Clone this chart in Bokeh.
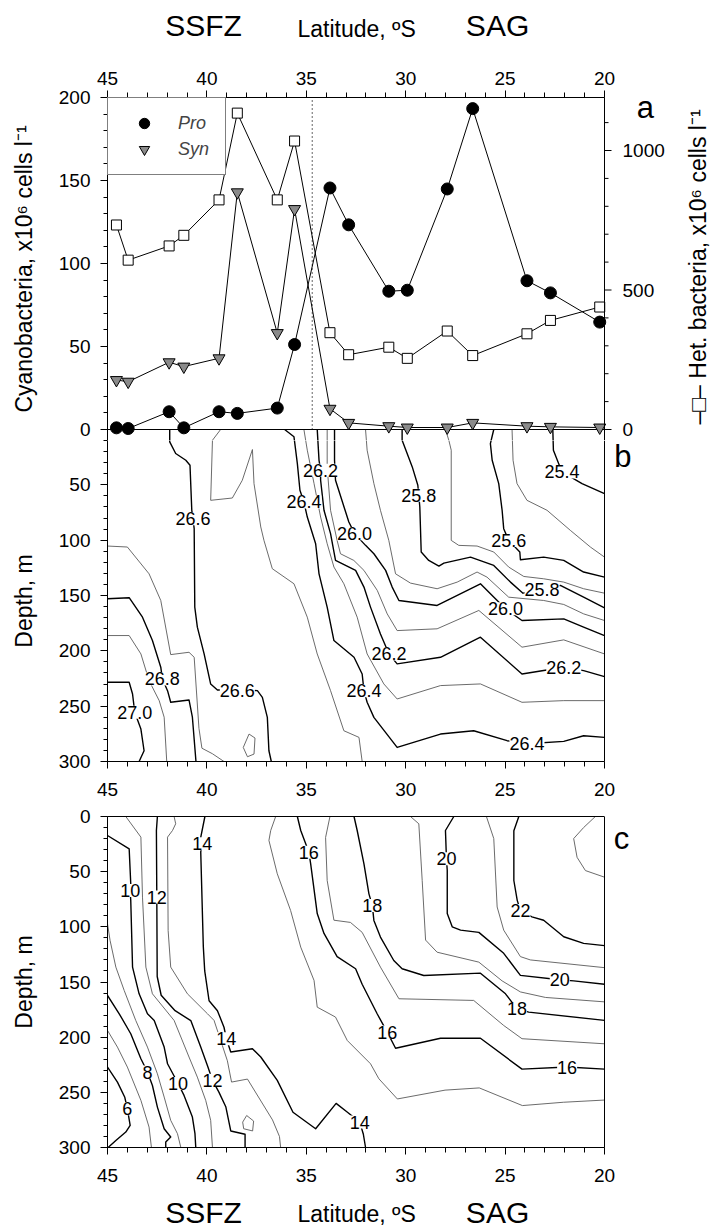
import math
from bokeh.plotting import figure
from bokeh.models import (Range1d, LinearAxis, FixedTicker, Legend, LegendItem,
                          LabelSet, ColumnDataSource, Span)
from bokeh.layouts import column
from bokeh.core.properties import value
from bokeh.embed import file_html
from bokeh.resources import INLINE

FONT = "Liberation Sans"

# ---------------- panel a data ----------------
station_lat = [44.55, 43.96, 41.90, 41.16, 39.39, 38.47, 36.46, 35.59, 33.81,
               32.87, 30.85, 29.92, 27.91, 26.63, 23.90, 22.72, 20.24]
pro = [1.0, 0.6, 10.7, 1.0, 10.7, 9.7, 12.9, 51.2, 145.5,
       123.3, 83.3, 83.9, 144.9, 193.3, 89.6, 82.3, 64.7]
syn = [29.8, 28.8, 40.5, 37.9, 42.9, 142.9, 58.1, 132.8, 12.5,
       4.0, 2.0, 1.2, 1.2, 4.0, 2.0, 1.6, 1.2]
het = [733, 607, 658, 696, 823, 1134, 823, 1034, 347,
       268, 295, 255, 353, 265, 343, 391, 439]
front_lat = 34.7
cyano_max = 200
het_max = 1190

# ---------------- panel b: density contours (lat, depth) ----------------
sig_254 = [(22.6, 0), (22.57, 18.7), (22.14, 38.3), (21.13, 48.9), (20, 57.9)]
sig_255 = [(24.65, 0), (24.6, 27.8), (24.4, 48.9), (23.9, 64), (22.89, 73), (21.72, 91.1),
           (20.71, 106.2), (20, 115.3)]
sig_256 = [(25.57, 0), (25.74, 12.7), (25.65, 27.8), (25.32, 48.9), (25.15, 73), (25.07, 89.6),
           (24.82, 100.2), (24.26, 110.7), (24.23, 117.7), (23.06, 115.3), (22.05, 118.3),
           (21.05, 128.8), (20, 133.4)]
sig_257 = [(28.0, 0), (27.83, 9.7), (27.71, 18.7), (27.71, 100.2), (27.33, 104.7), (26.41, 105.3),
           (25.57, 110.7), (24.82, 124.3), (24.06, 132.8), (23.06, 134.9), (22.05, 137.9),
           (21.05, 143.9), (20, 147.9)]
sig_258 = [(30.18, 0), (30.18, 9.7), (29.67, 33.8), (29.39, 50.4), (29.34, 59.4), (29.29, 70),
           (29.22, 110.7), (28.84, 118.3), (28.33, 123.4), (28.08, 120.7), (26.74, 115.3),
           (25.57, 122.8), (24.73, 137.9), (24.1, 147.9), (23.14, 144.8), (22.22, 140.9),
           (21.05, 151.5), (20, 161.1)]
sig_259 = [(32.02, 0), (31.94, 18.7), (31.6, 48.9), (31.27, 73), (30.85, 100.2), (30.51, 130.4),
           (29.76, 138.8), (28.42, 143.9), (27.41, 137.9), (26.41, 128.8), (25.91, 133.4),
           (24.82, 151.5), (23.06, 154.5), (22.05, 158.1), (21.05, 166.6), (20, 172.6)]
sig_260 = [(33.58, 0), (33.58, 27.8), (33.53, 45.9), (32.86, 83.6), (32.57, 94.1), (32.02, 104.7),
           (31.6, 112.3), (31.01, 127.3), (30.68, 142.4), (30.34, 154.5), (28.42, 159),
           (26.24, 139.4), (25.65, 150), (24.98, 162), (24.15, 172.6), (22.05, 171.1),
           (21.05, 178.6), (20, 186.2)]
sig_261 = [(33.95, 0), (33.95, 33.8), (33.78, 73), (33.45, 100.2), (33.28, 112.3), (32.61, 118.3),
           (32.1, 127.3), (31.43, 145.4), (30.93, 166.6), (30.43, 181.7), (28.42, 180.1),
           (26.32, 163.5), (24.15, 196.7), (22.05, 190.1), (20, 202.8)]
sig_262 = [(34.45, 0), (34.36, 27.8), (34.28, 36.8), (34.28, 45.9), (34.11, 73), (33.78, 94.1),
           (33.53, 118.3), (32.52, 127.3), (32.1, 142.4), (31.77, 160.5), (31.27, 184.7),
           (30.84, 202.8), (30.43, 211.8), (28.25, 205.8), (26.24, 187.7), (24.15, 220.9),
           (22.05, 214.8), (21.05, 217.9), (20, 223.3)]
sig_263 = [(35.12, 0), (34.95, 18.7), (34.61, 48.9), (34.28, 79.1), (33.95, 103.2), (33.61, 124.3),
           (33.11, 139.4), (32.44, 169.6), (31.94, 202.8), (31.1, 229.9), (30.43, 243.5),
           (28.25, 231.4), (26.24, 229.9), (24.15, 246.5), (22.05, 245), (20, 245)]
sig_264 = [(36.09, 0), (35.62, 6.6), (35.45, 30.8), (35.32, 54.9), (35.12, 65.5), (34.95, 79.1),
           (34.53, 103.2), (34.36, 130.4), (33.95, 160.5), (33.61, 190.7), (32.6, 205.8),
           (32.19, 220.9), (32.1, 236), (31.94, 246.5), (31.6, 260.1), (30.43, 287.3),
           (28.25, 275.2), (26.58, 272.2), (24.9, 281.2), (23.9, 284), (22.05, 281.8),
           (21.05, 276.7), (20, 278.2)]
sig_265 = [(39.31, 0), (39.72, 9.7), (39.81, 64), (38.72, 61.9), (38.22, 45.9), (37.71, 18.1),
           (37.63, 48.9), (37.29, 88.1), (37.13, 100.2), (36.71, 125.8), (35.62, 139.4),
           (34.95, 169.6), (34.45, 202.8), (33.78, 236), (33.11, 272.2), (32.35, 278.2),
           (32.19, 300)]
sig_266 = [(41.87, 0), (41.87, 11.2), (41.57, 21.7), (41.06, 27.8), (40.85, 32.3), (40.76, 73),
           (40.7, 80.6), (40.64, 89.6), (40.61, 160.5), (40.48, 178.6), (40.14, 202.8),
           (39.81, 230), (39.47, 235.4), (38.47, 235.4), (37.46, 236), (37.21, 242),
           (36.96, 260.1), (36.88, 290.3), (36.76, 300)]
sig_267 = [(45, 105.3), (44.0, 106.2), (42.91, 130.4), (42.32, 154.5), (41.82, 203.4),
           (40.9, 201.3), (40.64, 205.8), (40.4, 270), (40.25, 288), (39.72, 293), (39.14, 300)]
sig_267_loop = [(37.88, 275.2), (37.58, 278.8), (37.63, 293.3), (37.96, 295.7), (38.17, 287.3),
                (37.88, 275.2)]
sig_268 = [(45, 153), (43.91, 152), (43.24, 169.6), (42.74, 190.7), (42.32, 214.8), (42.24, 225.4),
           (41.98, 236), (41.82, 246.5), (40.9, 244.4), (40.73, 260), (40.55, 300)]
sig_269 = [(45, 186.2), (43.91, 186.2), (43.32, 202.8), (42.91, 226.9), (42.4, 245), (42.15, 260),
           (42.02, 300)]
sig_270 = [(45, 228.4), (43.91, 228.4), (43.74, 239), (43.63, 255.6), (43.32, 270.7),
           (43.16, 290.3), (43.41, 300)]

sig_labels_lat = [40.7, 38.47, 42.24, 43.63, 35.12, 32.1, 23.9, 34.28, 30.84, 22.05,
                  32.57, 24.98, 29.34, 23.14, 24.82, 22.14]
sig_labels_dep = [80.6, 235.4, 225.4, 255.6, 65.5, 236, 284, 36.8, 202.8, 214.8,
                  94.1, 162, 59.4, 144.8, 100.2, 38.3]
sig_labels_txt = ["26.6", "26.6", "26.8", "27.0", "26.4", "26.4", "26.4", "26.2", "26.2", "26.2",
                  "26.0", "26.0", "25.8", "25.8", "25.6", "25.4"]

# ---------------- panel c: temperature contours (lat, depth) ----------------
tmp_06 = [(45, 227.1), (44.5, 240.7), (44.13, 254.5), (44.0, 264.9), (43.86, 280), (44.08, 286),
          (44.58, 293.6), (44.97, 300)]
tmp_07 = [(45, 193.9), (44.5, 209), (44.0, 227.1), (43.32, 257.3), (42.91, 281.5), (42.79, 300)]
tmp_08 = [(45, 162.2), (44.41, 178.8), (43.83, 196.9), (43.32, 219.6), (42.99, 231.6),
          (42.74, 243.8), (42.49, 263.4), (42.15, 283), (41.82, 290.5), (42.07, 295.1), (42.07, 300)]
tmp_09 = [(45, 97.3), (44.87, 112.4), (44.58, 136.5), (44.16, 157.7), (43.58, 184.8), (42.99, 209),
          (42.49, 233.2), (42.15, 254.3), (41.82, 275.4), (41.48, 287.5), (41.31, 300)]
tmp_10 = [(45, 17.2), (43.91, 29.3), (43.83, 61), (43.86, 67), (43.83, 76.1), (43.74, 136.5),
          (43.41, 160.7), (42.99, 178.8), (42.65, 184.8), (42.15, 209), (41.98, 224.1),
          (41.45, 242), (41.15, 252.8), (40.73, 272.4), (40.6, 287.5), (40.56, 300)]
tmp_11 = [(44.08, 0), (43.32, 18.7), (43.24, 73.1), (43.07, 136.5), (42.74, 160.7), (41.65, 184.8),
          (40.9, 218), (40.48, 236.2), (40.06, 257.3), (39.81, 275.4), (39.72, 300)]
tmp_12 = [(42.49, 0), (42.54, 12.7), (42.52, 73), (42.5, 145), (42.3, 162), (41.6, 176),
          (40.81, 185), (40.31, 209), (39.97, 226), (39.72, 239), (39.39, 250), (39.05, 263),
          (38.8, 285), (38.08, 288), (38.08, 300)]
tmp_13 = [(41.65, 0), (41.57, 6.6), (41.73, 12.7), (41.98, 18.7), (41.95, 103.3), (41.82, 136.5),
          (40.98, 160.7), (39.97, 178.8), (39.64, 184.8), (38.97, 221.4), (38.76, 240.7),
          (37.96, 238), (36.7, 275), (36.35, 290), (36.29, 300)]
tmp_13_loop = [(38.0, 271), (37.65, 276), (37.7, 285), (38.15, 283), (38.2, 277), (38.0, 271)]
tmp_14 = [(40.1, 0), (40.31, 19), (40.23, 24.8), (40.31, 32), (40.18, 118), (40.11, 140),
          (39.89, 167), (39.47, 176), (39.14, 191), (39.02, 201.4), (38.8, 213.5), (37.71, 210.5),
          (37.29, 218), (36.46, 239.2), (35.67, 268), (34.53, 283), (33.5, 260), (32.93, 268),
          (32.31, 277), (32.13, 288), (32.02, 300)]
tmp_15 = [(36.54, 0), (36.79, 12.7), (36.88, 21.7), (36.46, 51.9), (35.79, 85.2), (35.28, 118.4),
          (34.61, 148.6), (34.45, 172.8), (33.53, 181.8), (32.94, 203), (31.77, 224.1),
          (31.35, 237.7), (30.42, 256), (28.02, 248), (26.3, 246), (24.13, 262), (22.07, 259),
          (20, 257)]
tmp_16 = [(35.45, 0), (35.28, 12.7), (34.87, 32.3), (34.78, 43), (34.45, 88), (34.11, 106),
          (33.45, 127), (32.52, 138), (32.19, 152), (31.43, 179), (30.93, 195.4), (30.51, 210),
          (28.25, 201), (26.24, 201), (24.15, 229), (21.88, 227.1), (20, 229)]
tmp_17 = [(33.81, 0), (34.03, 19), (33.95, 58), (33.61, 94), (32.78, 96), (32.19, 105),
          (31.27, 136.5), (30.34, 165.2), (26.58, 166.7), (25.07, 189.4), (24.15, 201.4), (20, 206)]
tmp_18 = [(32.6, 0), (32.44, 12.7), (32.1, 42.9), (31.85, 70.1), (31.68, 80.6), (31.6, 94.2),
          (31.27, 109.3), (30.6, 130.5), (30.18, 138), (29.09, 144.1), (26.24, 142),
          (24.98, 160.7), (24.4, 174.3), (23.81, 177.3), (20, 184.8)]
tmp_19 = [(29.76, 0), (29.34, 6.6), (29.17, 58), (29.0, 112), (28.42, 123), (26.32, 132),
          (25.15, 149), (24.23, 159), (22.97, 164), (20, 168)]
tmp_20 = [(27.58, 0), (28.0, 12.7), (27.95, 38.4), (27.91, 49), (27.91, 88), (27.66, 100),
          (27.24, 103), (26.32, 105), (25.07, 124), (24.23, 144), (22.25, 148), (21.55, 149),
          (20, 152)]
tmp_21 = [(25.94, 0), (25.57, 20), (25.4, 82), (25.07, 103), (24.23, 127), (23.73, 130), (20, 137)]
tmp_22 = [(24.31, 0), (24.56, 13), (24.56, 58), (24.39, 76), (24.23, 85.2), (23.65, 91),
          (23.06, 94), (22.05, 109), (21.05, 115), (20, 117)]
tmp_23 = [(20.46, 0), (21.05, 10), (21.55, 20), (21.38, 37), (20.96, 49), (20, 55)]

tmp_labels_lat = [44.0, 42.99, 43.86, 41.45, 42.52, 39.72, 40.23, 39.02, 32.31,
                  34.87, 30.93, 21.88, 31.68, 24.4, 27.95, 22.25, 24.23]
tmp_labels_dep = [264.9, 231.6, 67, 242, 73, 239, 24.8, 201.4, 277,
                  32.3, 195.4, 227.1, 80.6, 174.3, 38.4, 148, 85.2]
tmp_labels_txt = ["6", "8", "10", "10", "12", "12", "14", "14", "14",
                  "16", "16", "16", "18", "18", "20", "20", "22"]

# ---------------- ticks / texts ----------------
lat_ticks = [45, 40, 35, 30, 25, 20]
lat_minor = list(range(20, 46))
cyano_ticks = [0, 50, 100, 150, 200]
het_ticks = [0, 500, 1000]
het_minor = [v for v in range(100, het_max + 1, 100) if v not in het_ticks]
depth_ticks = [0, 50, 100, 150, 200, 250, 300]
region_words = ["SSFZ", "SAG"]
region_lat = [40.17, 25.38]
axis_title = "Latitude, \u00baS"
axis_title_lat = 32.47
cyano_title = "Cyanobacteria, x10\u2076 cells l\u207b\u00b9"
het_title = "\u2013\u25a1\u2013 Het. bacteria, x10\u2076 cells l\u207b\u00b9"
depth_title = "Depth, m"

# ---------------- layout constants (page has no margin) ----------------
W = 711
LB = 107
PXD = 497 / 25.0                 # px per degree latitude
PXC = 332 / cyano_max            # px per cyano unit (panel a)
PXM = 332 / 300.0                # px per metre (panels b, c)
STRIP = 11                       # px of panel b drawn inside figure a (below the 0 line)
CY_MIN = -STRIP / PXC
HET_MIN = CY_MIN * het_max / cyano_max
DEP_STRIP = STRIP / PXM
LAT_EDGE = lat_ticks[-1]         # right frame edge (20 S)
LAT_R = 45 - (W - LB) / PXD      # latitude at page's right edge
TICK_PX = "19px"
AXLAB_PX = "23px"
THICK = dict(line_color="black", line_width=1.4, line_join="round")
THIN = dict(line_color="#5a5a5a", line_width=0.9, line_join="round")
COMMON = dict(output_backend="svg", toolbar_location=None, title=None)

HEAD_H = 45
PA_H = 52 + 332 + STRIP
PB_H = 332 - STRIP + 40
PC_H = 15 + 331 + 42
FOOT_H = 1228 - HEAD_H - PA_H - PB_H - PC_H

xr = Range1d(45, LAT_R)


def style_axis(ax, tout=7, mout=4, standoff=8):
    ax.axis_line_color = "black"
    ax.axis_line_width = 1
    ax.major_tick_line_color = "black"
    ax.minor_tick_line_color = "black"
    ax.major_tick_in = 0
    ax.major_tick_out = tout
    ax.minor_tick_in = 0
    ax.minor_tick_out = mout
    ax.major_label_text_font = FONT
    ax.major_label_text_font_size = TICK_PX
    ax.major_label_text_color = "black"
    ax.major_label_standoff = standoff
    ax.axis_label_text_font = FONT
    ax.axis_label_text_font_size = AXLAB_PX
    ax.axis_label_text_font_style = "normal"
    ax.axis_label_text_color = "black"
    ax.axis_label_standoff = 19


def lat_axis(ax, labels=True, standoff=14):
    style_axis(ax, tout=7, mout=5, standoff=standoff)
    ax.bounds = (LAT_EDGE, 45)
    if labels:
        ax.ticker = FixedTicker(ticks=lat_ticks, minor_ticks=lat_minor)
    else:
        ax.ticker = FixedTicker(ticks=[], minor_ticks=[])
        ax.major_label_standoff = 0
        ax.major_tick_out = 0
        ax.minor_tick_out = 0


def plain(p):
    p.grid.visible = False
    p.outline_line_color = None
    p.background_fill_color = "white"
    p.border_fill_color = "white"


def xs_ys(lines):
    return [[q[0] for q in c] for c in lines], [[q[1] for q in c] for c in lines]


def add_contour_lines(p, thick, thin, **kw):
    xs, ys = xs_ys(thin)
    p.multi_line(xs=xs, ys=ys, **THIN, **kw)
    xs, ys = xs_ys(thick)
    p.multi_line(xs=xs, ys=ys, **THICK, **kw)


def add_contour_labels(p, lab_lat, lab_dep, lab_txt):
    src = ColumnDataSource(dict(x=lab_lat, y=lab_dep, t=lab_txt))
    p.add_layout(LabelSet(x="x", y="y", text="t", source=src, text_align="center",
                          text_baseline="middle", text_font=value(FONT),
                          text_font_size="18px", text_color="black",
                          background_fill_color="white"))


def txt(p, x, y, text, size, angle=0.0, align="center", **kw):
    p.text(x=x, y=y, text=text, angle=angle, text_font=value(FONT), text_font_size=size,
           text_align=align, text_baseline="middle", text_color="black", **kw)


def strip_fig(height):
    f = figure(width=W, height=height, x_range=xr, y_range=Range1d(0, height),
               x_axis_type=None, y_axis_type=None, min_border_left=LB, min_border_right=0,
               min_border_top=0, min_border_bottom=0, **COMMON)
    plain(f)
    return f


sig_thick = [sig_254, sig_256, sig_258, sig_260, sig_262, sig_264, sig_266, sig_268, sig_270]
sig_thin = [sig_255, sig_257, sig_259, sig_261, sig_263, sig_265, sig_267, sig_267_loop, sig_269]
tmp_thick = [tmp_06, tmp_08, tmp_10, tmp_12, tmp_14, tmp_16, tmp_18, tmp_20, tmp_22]
tmp_thin = [tmp_07, tmp_09, tmp_11, tmp_13, tmp_13_loop, tmp_15, tmp_17, tmp_19, tmp_21, tmp_23]

# =============== header ===============
head = strip_fig(HEAD_H)
txt(head, region_lat, [20, 20], region_words, "30px")
txt(head, [axis_title_lat], [16.3], [axis_title], AXLAB_PX)

# =============== panel a (plus the top strip of panel b) ===============
pa = figure(width=W, height=PA_H, x_range=xr, y_range=Range1d(CY_MIN, cyano_max),
            x_axis_location="above", min_border_left=LB, min_border_right=0,
            min_border_top=52, min_border_bottom=0, **COMMON)
plain(pa)
pa.extra_y_ranges = {"het": Range1d(HET_MIN, het_max),
                     "depth": Range1d(DEP_STRIP, -300)}
ax = pa.above[0]
lat_axis(ax, standoff=6)
ax = pa.left[0]
style_axis(ax, tout=7, mout=4, standoff=10)
ax.ticker = FixedTicker(ticks=cyano_ticks, minor_ticks=list(range(0, cyano_max + 1, 10)))
ax.axis_label = cyano_title
pa.add_layout(Span(location=LAT_EDGE, dimension="height", line_color="black", line_width=1))

# top few metres of the density section
add_contour_lines(pa, sig_thick, sig_thin, y_range_name="depth")
pa.segment(x0=[45], y0=[0], x1=[LAT_EDGE], y1=[0], line_color="black", line_width=1)

# right-hand Het. bacteria axis
pa.segment(x0=[LAT_EDGE] * len(het_ticks), y0=het_ticks, x1=[LAT_EDGE - 7 / PXD] * len(het_ticks),
           y1=het_ticks, y_range_name="het", line_color="black", line_width=1)
pa.segment(x0=[LAT_EDGE] * len(het_minor), y0=het_minor, x1=[LAT_EDGE - 4 / PXD] * len(het_minor),
           y1=het_minor, y_range_name="het", line_color="black", line_width=1)
txt(pa, [LAT_EDGE - 18 / PXD] * len(het_ticks), het_ticks, [str(v) for v in het_ticks],
    TICK_PX, align="left", y_range_name="het")

src_a = ColumnDataSource(dict(lat=station_lat, pro=pro, syn=syn, het=het))
pa.segment(x0=[front_lat], y0=[0], x1=[front_lat], y1=[cyano_max],
           line_color="black", line_width=1.2, line_dash="1 3")
pa.line("lat", "het", source=src_a, y_range_name="het", line_color="black", line_width=1)
pa.line("lat", "syn", source=src_a, line_color="black", line_width=1)
pa.line("lat", "pro", source=src_a, line_color="black", line_width=1)
pa.scatter("lat", "het", source=src_a, y_range_name="het", marker="square", size=10,
           fill_color="white", line_color="black", line_width=1)
syn_r = pa.scatter("lat", "syn", source=src_a, marker="inverted_triangle", size=12,
                   fill_color="#8a8a8a", line_color="black", line_width=1)
pro_r = pa.scatter("lat", "pro", source=src_a, marker="circle", size=12,
                   fill_color="black", line_color="black")

legend = Legend(items=[LegendItem(label="Pro", renderers=[pro_r]),
                       LegendItem(label="Syn", renderers=[syn_r])],
                location="top_left", margin=0, padding=12, spacing=0,
                glyph_width=48, glyph_height=26, label_width=35, label_height=26,
                label_standoff=10, label_text_font=FONT, label_text_font_size="18px",
                label_text_font_style="italic", border_line_color="black", border_line_width=1,
                background_fill_color="white", background_fill_alpha=1)
pa.add_layout(legend)

txt(pa, [17.94], [194], ["a"], "31px")
txt(pa, [LAT_R + 14 / PXD], [97.9], [het_title], AXLAB_PX, angle=math.pi / 2)

# =============== panel b ===============
pb = figure(width=W, height=PB_H, x_range=xr, y_range=Range1d(300, DEP_STRIP),
            min_border_left=LB, min_border_right=0, min_border_top=0, min_border_bottom=40,
            **COMMON)
plain(pb)
ax = pb.below[0]
lat_axis(ax)
ax = pb.left[0]
style_axis(ax, tout=7, mout=4, standoff=10)
ax.ticker = FixedTicker(ticks=depth_ticks[1:], minor_ticks=list(range(10, 301, 10)))
ax.axis_label = depth_title
pb.add_layout(Span(location=LAT_EDGE, dimension="height", line_color="black", line_width=1))
add_contour_lines(pb, sig_thick, sig_thin)
add_contour_labels(pb, sig_labels_lat, sig_labels_dep, sig_labels_txt)
txt(pb, [19.07], [24.4], ["b"], "31px")

# =============== panel c ===============
pc = figure(width=W, height=PC_H, x_range=xr, y_range=Range1d(300, 0),
            min_border_left=LB, min_border_right=0, min_border_top=15, min_border_bottom=42,
            **COMMON)
plain(pc)
ax = pc.below[0]
lat_axis(ax)
ax = LinearAxis()
pc.add_layout(ax, "above")
lat_axis(ax, labels=False)
ax = pc.left[0]
style_axis(ax, tout=7, mout=4, standoff=10)
ax.ticker = FixedTicker(ticks=depth_ticks, minor_ticks=list(range(0, 301, 10)))
ax.axis_label = depth_title
pc.add_layout(Span(location=LAT_EDGE, dimension="height", line_color="black", line_width=1))
add_contour_lines(pc, tmp_thick, tmp_thin)
add_contour_labels(pc, tmp_labels_lat, tmp_labels_dep, tmp_labels_txt)
txt(pc, [19.14], [19.5], ["c"], "31px")

# =============== footer ===============
foot = strip_fig(FOOT_H)
txt(foot, region_lat, [16.5, 16.5], region_words, "30px")
txt(foot, [axis_title_lat], [15], [axis_title], AXLAB_PX)

layout = column(head, pa, pb, pc, foot)
open("out.html", "w").write(file_html(layout, INLINE))
